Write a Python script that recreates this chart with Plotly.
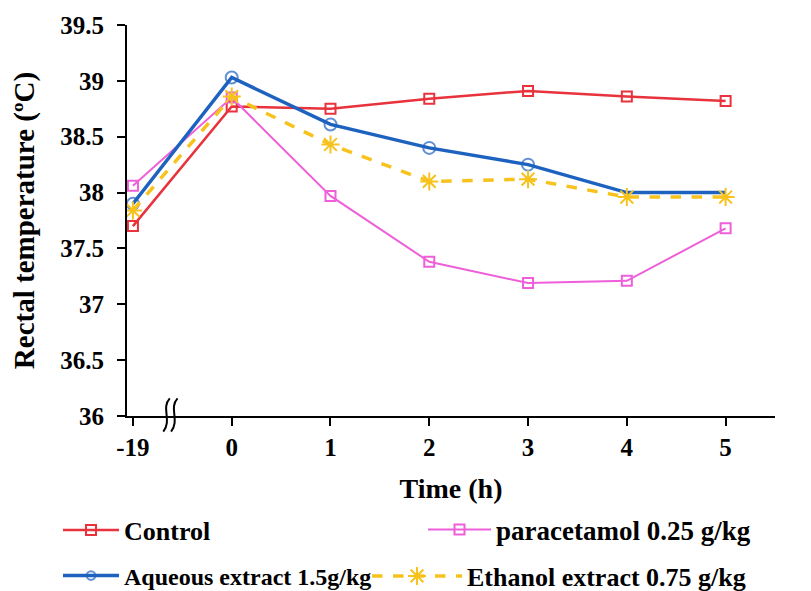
import plotly.graph_objects as go

time_labels = ["-19", "0", "1", "2", "3", "4", "5"]
control = [37.70, 38.77, 38.75, 38.84, 38.91, 38.86, 38.82]
paracetamol = [38.06, 38.85, 37.97, 37.38, 37.19, 37.21, 37.68]
aqueous = [37.90, 39.03, 38.61, 38.40, 38.25, 38.00, 38.00]
ethanol = [37.84, 38.86, 38.43, 38.10, 38.12, 37.96, 37.96]

y_ticks = [36, 36.5, 37, 37.5, 38, 38.5, 39, 39.5]
y_ticktext = ["36", "36.5", "37", "37.5", "38", "38.5", "39", "39.5"]

FONT = "Liberation Serif"
L, R, T, B = 119, 44, 17, 183
PW, PH = 811 - L - R, 591 - T - B

fig = go.Figure()
fig.add_trace(go.Scatter(
    x=time_labels, y=control, name="<b>Control</b>", mode="lines+markers", legend="legend",
    line=dict(color="#E8323C", width=2.5),
    marker=dict(symbol="square-open", size=10, color="#E8323C", line=dict(width=2))))
fig.add_trace(go.Scatter(
    x=time_labels, y=paracetamol, name="<b>paracetamol 0.25 g/kg</b>", mode="lines+markers", legend="legend2",
    line=dict(color="#EE5FD9", width=2),
    marker=dict(symbol="square-open", size=10, color="#EE5FD9", line=dict(width=2))))
fig.add_trace(go.Scatter(
    x=time_labels, y=aqueous, name="<b>Aqueous extract 1.5g/kg</b>", mode="lines+markers", legend="legend3",
    line=dict(color="#1E62C0", width=3.5),
    marker=dict(symbol="circle-open", size=[12, 12, 12, 12, 12, 0, 0], color="#1E62C0", line=dict(width=2))))
fig.add_trace(go.Scatter(
    x=time_labels, y=ethanol, name="<b>Ethanol extract 0.75 g/kg</b>", mode="lines+markers", legend="legend4",
    line=dict(color="#F7C21C", width=3.5, dash="dash"),
    marker=dict(symbol="asterisk-open", size=15, color="#F7C21C", line=dict(width=2, color="#F7C21C"))))

# axis break marks (paper coordinates relative to plot area)
for xb in [0.060, 0.072]:
    fig.add_shape(type="path",
                  path=(f"M {xb+0.006},0.045 C {xb-0.008},0.02 {xb+0.01},-0.01 {xb-0.004},-0.04"),
                  xref="paper", yref="paper", line=dict(color="black", width=2))

def leg(px, py, size, iw=56):
    return dict(font=dict(family=FONT, size=size, color="black"), itemwidth=iw,
                bgcolor="rgba(0,0,0,0)",
                xanchor="left", yanchor="middle",
                x=(px - L) / PW, y=(591 - B - py) / PH)

fig.update_layout(
    width=811, height=591,
    margin=dict(l=L, r=R, t=T, b=B, autoexpand=False),
    plot_bgcolor="white", paper_bgcolor="white",
    font=dict(family=FONT, color="black", size=26),
    xaxis=dict(
        type="category", range=[-0.06, 6.5],
        showline=True, linecolor="black", linewidth=2,
        ticks="outside", ticklen=8, tickwidth=2, tickcolor="black",
        tickfont=dict(family=FONT, size=25, color="black", weight="bold"),
        showgrid=False, zeroline=False,
        title=dict(text="<b>Time (h)</b>", font=dict(family=FONT, size=28), standoff=18)),
    yaxis=dict(
        range=[36, 39.5], tickvals=y_ticks, ticktext=y_ticktext,
        showline=True, linecolor="black", linewidth=2,
        ticks="outside", ticklen=8, tickwidth=2, tickcolor="black",
        tickfont=dict(family=FONT, size=25, color="black", weight="bold"),
        ticklabelstandoff=8,
        showgrid=False, zeroline=False,
        title=dict(text="<b>Rectal temperature (ºC)</b>", font=dict(family=FONT, size=29), standoff=28)),
    legend=leg(50, 522, 26),
    legend2=leg(415, 522, 27, 63),
    legend3=leg(50, 568, 24),
    legend4=leg(359, 568, 26, 90),
    showlegend=True,
)

fig.write_html("out.html")
